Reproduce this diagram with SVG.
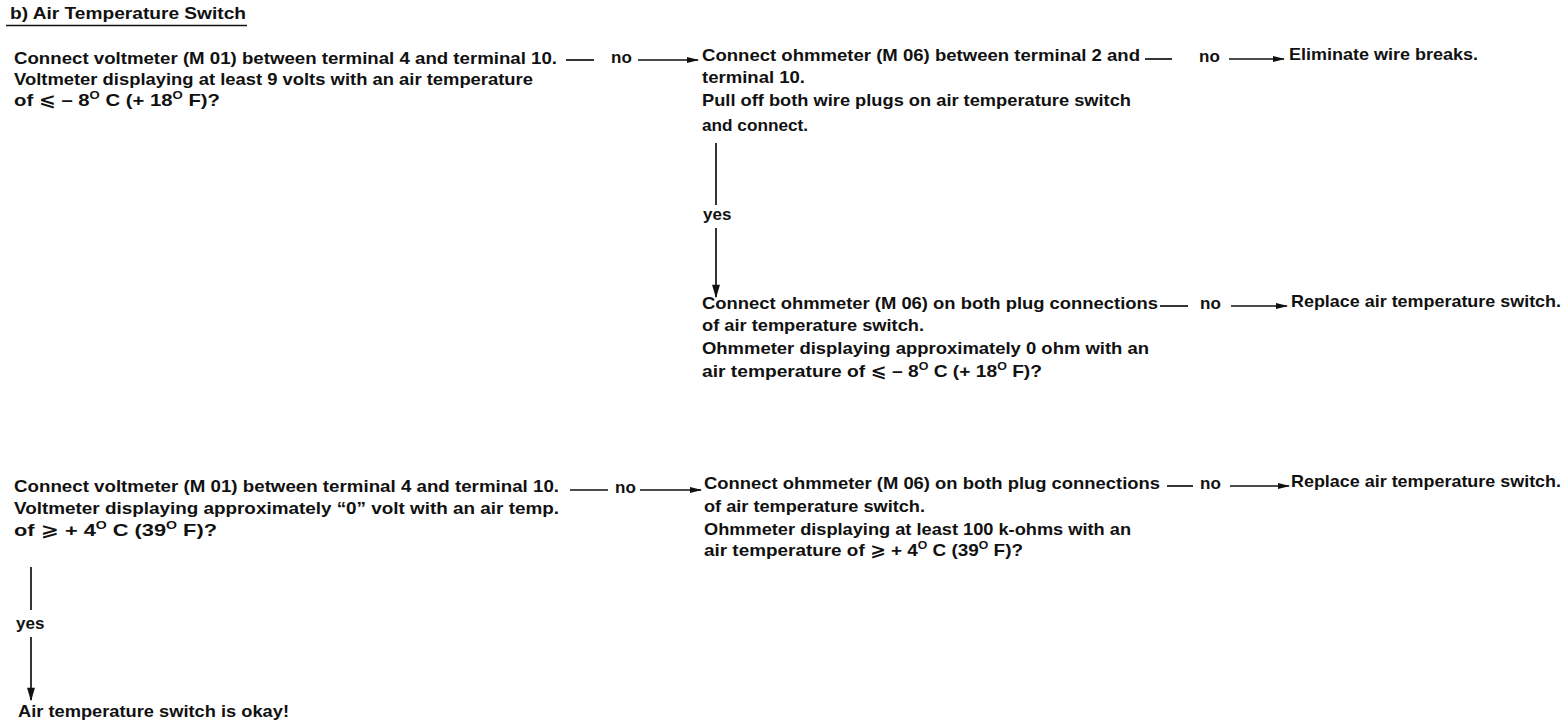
<svg xmlns="http://www.w3.org/2000/svg" width="1568" height="728" viewBox="0 0 1568 728">
<style>
text{font-family:"Liberation Sans","DejaVu Sans",sans-serif;font-weight:bold;font-size:17px;fill:#111}
.ln{stroke:#111;stroke-width:1.7;fill:none}
.sup{font-size:11px}
</style>
<defs>
<marker id="ah" viewBox="0 0 12 8" refX="11" refY="4" markerWidth="14" markerHeight="8" markerUnits="userSpaceOnUse" orient="auto"><path d="M0,1 L12,4 L0,7 Z" fill="#111"/></marker>
<marker id="av" viewBox="0 0 12 8" refX="11" refY="4" markerWidth="15" markerHeight="9" markerUnits="userSpaceOnUse" orient="auto"><path d="M0,0.5 L12,4 L0,7.5 Z" fill="#111"/></marker>
</defs>
<g id="title">
<text x="10" y="19" textLength="236" lengthAdjust="spacingAndGlyphs">b) Air Temperature Switch</text>
<line x1="6" y1="25.5" x2="247" y2="25.5" class="ln"/>
</g>
<g id="nodeA">
<text x="14" y="64" textLength="543" lengthAdjust="spacingAndGlyphs">Connect voltmeter (M 01) between terminal 4 and terminal 10.</text>
<text x="14" y="85" textLength="519" lengthAdjust="spacingAndGlyphs">Voltmeter displaying at least 9 volts with an air temperature</text>
<text x="14" y="106" textLength="206" lengthAdjust="spacingAndGlyphs">of ⩽ – 8<tspan class="sup" dy="-7">O</tspan><tspan dy="7"> C (+ 18</tspan><tspan class="sup" dy="-7">O</tspan><tspan dy="7"> F)?</tspan></text>
</g>
<g id="nodeB">
<text x="702" y="61" textLength="438" lengthAdjust="spacingAndGlyphs">Connect ohmmeter (M 06) between terminal 2 and</text>
<text x="702" y="83" textLength="103" lengthAdjust="spacingAndGlyphs">terminal 10.</text>
<text x="702" y="106" textLength="429" lengthAdjust="spacingAndGlyphs">Pull off both wire plugs on air temperature switch</text>
<text x="702" y="131" textLength="106" lengthAdjust="spacingAndGlyphs">and connect.</text>
</g>
<g id="nodeBreaks">
<text x="1289" y="60" textLength="189" lengthAdjust="spacingAndGlyphs">Eliminate wire breaks.</text>
</g>
<g id="nodeC">
<text x="702" y="309" textLength="456" lengthAdjust="spacingAndGlyphs">Connect ohmmeter (M 06) on both plug connections</text>
<text x="702" y="331" textLength="222" lengthAdjust="spacingAndGlyphs">of air temperature switch.</text>
<text x="702" y="354" textLength="447" lengthAdjust="spacingAndGlyphs">Ohmmeter displaying approximately 0 ohm with an</text>
<text x="702" y="377" textLength="340" lengthAdjust="spacingAndGlyphs">air temperature of ⩽ – 8<tspan class="sup" dy="-7">O</tspan><tspan dy="7"> C (+ 18</tspan><tspan class="sup" dy="-7">O</tspan><tspan dy="7"> F)?</tspan></text>
</g>
<g id="nodeReplace1">
<text x="1291" y="307" textLength="270" lengthAdjust="spacingAndGlyphs">Replace air temperature switch.</text>
</g>
<g id="nodeD">
<text x="14" y="492" textLength="545" lengthAdjust="spacingAndGlyphs">Connect voltmeter (M 01) between terminal 4 and terminal 10.</text>
<text x="14" y="514" textLength="545" lengthAdjust="spacingAndGlyphs">Voltmeter displaying approximately “0” volt with an air temp.</text>
<text x="14" y="536" textLength="203" lengthAdjust="spacingAndGlyphs">of ⩾ + 4<tspan class="sup" dy="-7">O</tspan><tspan dy="7"> C (39</tspan><tspan class="sup" dy="-7">O</tspan><tspan dy="7"> F)?</tspan></text>
</g>
<g id="nodeE">
<text x="704" y="489" textLength="456" lengthAdjust="spacingAndGlyphs">Connect ohmmeter (M 06) on both plug connections</text>
<text x="704" y="512" textLength="221" lengthAdjust="spacingAndGlyphs">of air temperature switch.</text>
<text x="704" y="535" textLength="427" lengthAdjust="spacingAndGlyphs">Ohmmeter displaying at least 100 k-ohms with an</text>
<text x="704" y="556" textLength="319" lengthAdjust="spacingAndGlyphs">air temperature of ⩾ + 4<tspan class="sup" dy="-7">O</tspan><tspan dy="7"> C (39</tspan><tspan class="sup" dy="-7">O</tspan><tspan dy="7"> F)?</tspan></text>
</g>
<g id="nodeReplace2">
<text x="1291" y="487" textLength="270" lengthAdjust="spacingAndGlyphs">Replace air temperature switch.</text>
</g>
<g id="nodeOkay">
<text x="18" y="717" textLength="271" lengthAdjust="spacingAndGlyphs">Air temperature switch is okay!</text>
</g>
<g id="connectors">
<line x1="566" y1="60" x2="594" y2="60" class="ln"/>
<text x="611" y="63">no</text>
<line x1="638" y1="60" x2="698" y2="60" class="ln" marker-end="url(#ah)"/>
<line x1="1145" y1="59" x2="1172" y2="59" class="ln"/>
<text x="1199" y="62">no</text>
<line x1="1229" y1="59" x2="1284" y2="59" class="ln" marker-end="url(#ah)"/>
<line x1="716" y1="143" x2="716" y2="205" class="ln"/>
<text x="703" y="220">yes</text>
<line x1="716" y1="228" x2="716" y2="297" class="ln" marker-end="url(#av)"/>
<line x1="1160" y1="306" x2="1188" y2="306" class="ln"/>
<text x="1200" y="309">no</text>
<line x1="1231" y1="306" x2="1287" y2="306" class="ln" marker-end="url(#ah)"/>
<line x1="570" y1="490" x2="608" y2="490" class="ln"/>
<text x="615" y="493">no</text>
<line x1="640" y1="490" x2="701" y2="490" class="ln" marker-end="url(#ah)"/>
<line x1="1167" y1="486" x2="1193" y2="486" class="ln"/>
<text x="1200" y="489">no</text>
<line x1="1230" y1="486" x2="1289" y2="486" class="ln" marker-end="url(#ah)"/>
<line x1="31" y1="567" x2="31" y2="610" class="ln"/>
<text x="16" y="629">yes</text>
<line x1="31" y1="637" x2="31" y2="700" class="ln" marker-end="url(#av)"/>
</g>
</svg>
